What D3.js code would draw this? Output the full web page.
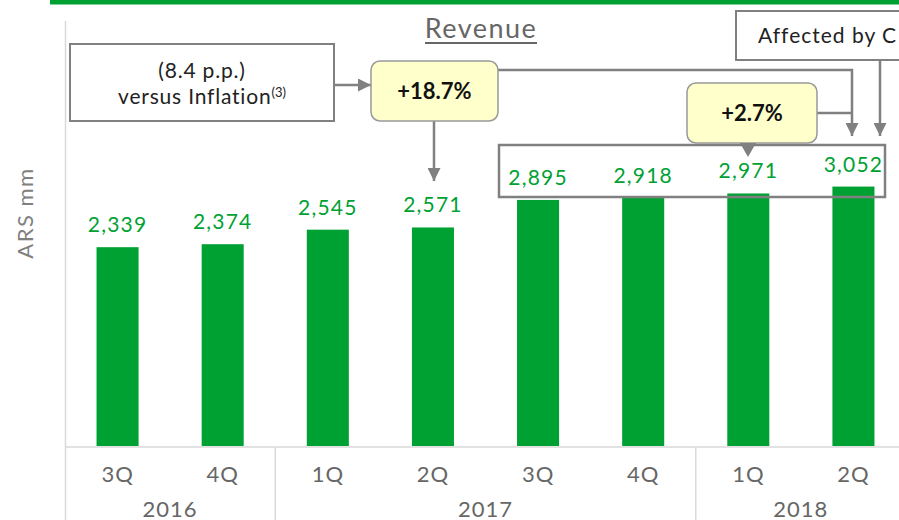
<!DOCTYPE html>
<html>
<head>
<meta charset="utf-8">
<script src="https://d3js.org/d3.v7.min.js"></script>
<style>
  body { margin: 0; background: #fff; }
  svg { display: block; font-family: Lato, "Open Sans", sans-serif; }
</style>
</head>
<body>
<div id="chart"></div>
<script>
// data
var quarters = ["3Q", "4Q", "1Q", "2Q", "3Q", "4Q", "1Q", "2Q"];
var years = ["2016", "2016", "2017", "2017", "2017", "2017", "2018", "2018"];
var revenue = [2339, 2374, 2545, 2571, 2895, 2918, 2971, 3052];
var yearLabels = ["2016", "2017", "2018"];

var W = 899, H = 520;
var green = "#00a133", grey = "#808080";

var svg = d3.select("#chart").append("svg")
    .attr("width", W)
    .attr("height", H);

var defs = svg.append("defs");
defs.append("marker")
    .attr("id", "head")
    .attr("viewBox", "0 0 10 10")
    .attr("refX", 10).attr("refY", 5)
    .attr("markerWidth", 5.2).attr("markerHeight", 5.2)
    .attr("markerUnits", "strokeWidth")
    .attr("orient", "auto")
  .append("path")
    .attr("d", "M0,0L10,5L0,10Z")
    .attr("fill", grey);

var ids = d3.range(revenue.length);

var x = d3.scaleBand()
    .domain(ids)
    .range([65, 906])
    .paddingInner(0.6)
    .paddingOuter(0.3);

var y = d3.scaleLinear()
    .domain([0, 5000])
    .range([446, 21]);

// top green strip
svg.append("rect")
    .attr("x", 50).attr("y", 0)
    .attr("width", W - 50).attr("height", 4.5)
    .attr("fill", green);

// axis frame
svg.append("line")
    .attr("x1", 65.5).attr("x2", 65.5)
    .attr("y1", 21).attr("y2", H)
    .attr("stroke", "#d9d9d9").attr("stroke-width", 1.5);
svg.append("line")
    .attr("x1", 65).attr("x2", W)
    .attr("y1", 447).attr("y2", 447)
    .attr("stroke", "#d9d9d9").attr("stroke-width", 1.5);

// group separators between years
var seps = [2, 6];
svg.selectAll(".sep")
    .data(seps)
    .enter().append("line")
    .attr("x1", function (d) { return x(d) - x.step() * x.paddingInner() / 2; })
    .attr("x2", function (d) { return x(d) - x.step() * x.paddingInner() / 2; })
    .attr("y1", 447).attr("y2", H)
    .attr("stroke", "#d9d9d9").attr("stroke-width", 1.5);

// bars
svg.selectAll(".bar")
    .data(ids)
    .enter().append("rect")
    .attr("x", function (i) { return x(i); })
    .attr("y", function (i) { return y(revenue[i]); })
    .attr("width", x.bandwidth())
    .attr("height", function (i) { return y(0) - y(revenue[i]); })
    .attr("fill", green);

// value labels
svg.selectAll(".val")
    .data(ids)
    .enter().append("text")
    .attr("x", function (i) { return x(i) + x.bandwidth() / 2; })
    .attr("y", function (i) { return y(revenue[i]) - 15; })
    .attr("text-anchor", "middle")
    .attr("font-size", 21)
    .attr("letter-spacing", 1.2)
    .attr("fill", green)
    .text(function (i) { return d3.format(",")(revenue[i]); });

// quarter tick labels
svg.selectAll(".q")
    .data(ids)
    .enter().append("text")
    .attr("x", function (i) { return x(i) + x.bandwidth() / 2; })
    .attr("y", 482)
    .attr("text-anchor", "middle")
    .attr("font-size", 22)
    .attr("letter-spacing", 1)
    .attr("fill", "#666")
    .text(function (i) { return quarters[i]; });

// year labels, centred on their group
svg.selectAll(".yr")
    .data(yearLabels)
    .enter().append("text")
    .attr("x", function (yr) {
      var idx = ids.filter(function (i) { return years[i] === yr; });
      var half = x.step() / 2;
      var a = x(idx[0]) + x.bandwidth() / 2 - half;
      var b = x(idx[idx.length - 1]) + x.bandwidth() / 2 + half;
      return (a + b) / 2;
    })
    .attr("y", 517)
    .attr("text-anchor", "middle")
    .attr("font-size", 22)
    .attr("letter-spacing", 1)
    .attr("fill", "#666")
    .text(function (d) { return d; });

// axis title
svg.append("text")
    .attr("transform", "translate(33,213) rotate(-90)")
    .attr("text-anchor", "middle")
    .attr("font-size", 22)
    .attr("letter-spacing", 1.5)
    .attr("fill", "#808080")
    .text("ARS mm");

// chart title
svg.append("text")
    .attr("x", 481).attr("y", 38)
    .attr("text-anchor", "middle")
    .attr("font-size", 27)
    .attr("letter-spacing", 1.5)
    .attr("fill", "#666")
    .text("Revenue");
svg.append("line")
    .attr("x1", 425).attr("x2", 537)
    .attr("y1", 43).attr("y2", 43)
    .attr("stroke", "#666").attr("stroke-width", 2);

// annotation boxes
svg.append("rect")
    .attr("x", 70).attr("y", 44).attr("width", 264).attr("height", 77)
    .attr("fill", "#fff").attr("stroke", grey).attr("stroke-width", 2);
var inf = svg.append("text")
    .attr("text-anchor", "middle")
    .attr("font-size", 21)
    .attr("letter-spacing", 0.8)
    .attr("fill", "#222");
inf.append("tspan").attr("x", 202).attr("y", 78).text("(8.4 p.p.)");
var l2 = inf.append("tspan").attr("x", 202).attr("y", 104).text("versus Inflation");
l2.append("tspan").attr("font-size", 13).attr("letter-spacing", 0).attr("dy", -7).text("(3)");

svg.append("rect")
    .attr("x", 736).attr("y", 11).attr("width", 200).attr("height", 49)
    .attr("fill", "#fff").attr("stroke", grey).attr("stroke-width", 2);
svg.append("text")
    .attr("x", 758).attr("y", 43)
    .attr("font-size", 21)
    .attr("letter-spacing", 1)
    .attr("fill", "#222")
    .text("Affected by C");

// connector lines with arrowheads
function arrow(pts) {
  svg.append("path")
      .attr("d", d3.line()(pts))
      .attr("fill", "none")
      .attr("stroke", grey)
      .attr("stroke-width", 2.5)
      .attr("marker-end", "url(#head)");
}
arrow([[334, 85], [371, 85]]);
arrow([[434, 121], [434, 181]]);
arrow([[498, 70], [852, 70], [852, 136]]);
arrow([[880, 60], [880, 136]]);
svg.append("path")
    .attr("d", d3.line()([[816, 113], [852, 113]]))
    .attr("stroke", grey).attr("stroke-width", 2.5);

// highlight box around the last four values
svg.append("rect")
    .attr("x", 499).attr("y", 145).attr("width", 386).attr("height", 52)
    .attr("fill", "none").attr("stroke", grey).attr("stroke-width", 2.5);

// yellow growth callouts
function callout(x0, y0, w, h, label, pointer) {
  var g = svg.append("g");
  g.append("rect")
      .attr("x", x0).attr("y", y0).attr("width", w).attr("height", h)
      .attr("rx", 9)
      .attr("fill", "#ffffcc").attr("stroke", "#999").attr("stroke-width", 1.5);
  if (pointer) {
    g.append("path")
        .attr("d", "M" + (pointer - 8) + "," + (y0 + h) + "L" + pointer + "," + (y0 + h + 14) + "L" + (pointer + 8) + "," + (y0 + h) + "Z")
        .attr("fill", grey);
  }
  g.append("text")
      .attr("x", x0 + w / 2).attr("y", y0 + h / 2 + 8)
      .attr("text-anchor", "middle")
      .attr("font-size", 22).attr("font-weight", "bold")
      .attr("fill", "#111")
      .text(label);
}
callout(371, 61, 127, 60, "+18.7%");
callout(687, 83, 130, 60, "+2.7%", 748);
</script>
</body>
</html>
